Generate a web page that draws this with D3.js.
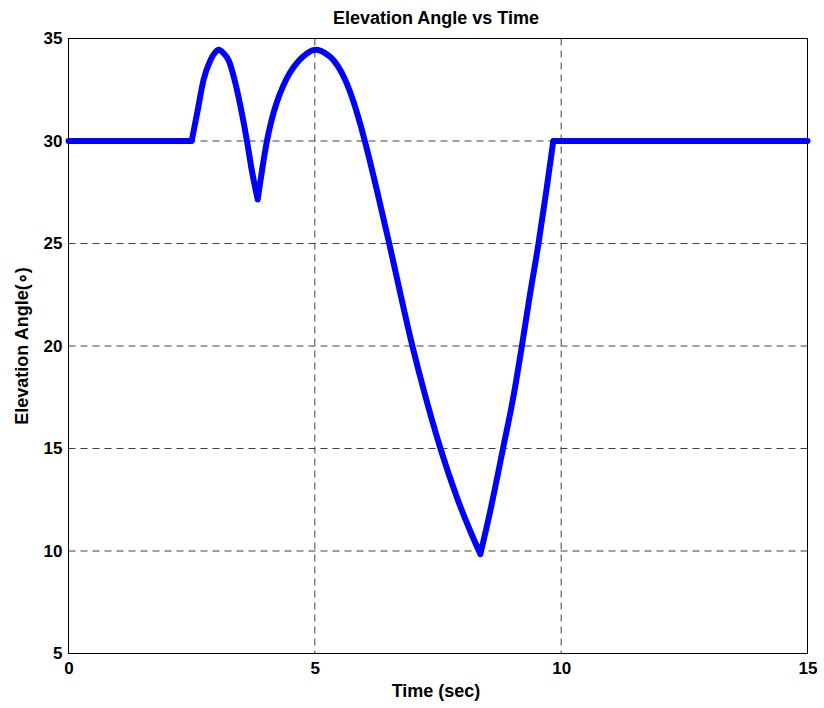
<!DOCTYPE html>
<html>
<head>
<meta charset="utf-8">
<script src="https://cdn.jsdelivr.net/npm/d3@7/dist/d3.min.js"></script>
<style>
  html, body { margin: 0; padding: 0; background: #fff; }
  svg { display: block; }
  text { font-family: Arial, "Liberation Sans", Helvetica, sans-serif; font-weight: bold; fill: #000; }
</style>
</head>
<body>
<svg id="chart" width="824" height="708"></svg>
<script>
// Elevation angle (degrees) sampled over time (seconds)
const timeSec = [0, 2.5, 2.61, 2.74, 2.88, 2.97, 3.05, 3.14, 3.25, 3.39, 3.52, 3.62, 3.72, 3.84,
  3.93, 4.02, 4.12, 4.23, 4.36, 4.5, 4.67, 4.84, 4.95, 5.04, 5.2, 5.38, 5.65, 5.92, 6.02, 6.26, 6.5,
  6.98, 7.21, 7.55, 7.88, 8.15, 8.36, 8.56, 8.82, 9.03, 9.2, 9.37, 9.54, 9.71, 9.84, 15];
const elevationDeg = [30, 30, 31.34, 32.97, 33.94, 34.3, 34.45, 34.3, 33.94, 32.8, 31.34, 30.04, 28.58, 27.15,
  28.6, 29.9, 31.0, 31.9, 32.7, 33.35, 33.9, 34.27, 34.42, 34.45, 34.3, 33.94, 32.8, 30.85, 29.95, 27.6, 25.1,
  20.0, 17.85, 15.0, 12.64, 11.0, 9.85, 11.95, 15.0, 17.52, 19.96, 22.56, 25.0, 27.76, 30.0, 30];

// times where the trajectory switches manoeuvre (sharp corners)
const breakTimes = [0, 2.5, 3.84, 8.36, 9.84, 15];

const xTicks = [0, 5, 10, 15];
const yTicks = [5, 10, 15, 20, 25, 30, 35];

const titleText = "Elevation Angle vs Time";
const xLabelText = "Time (sec)";
const yLabelText = "Elevation Angle(\u2218)";

const svg = d3.select("#chart");
const plotLeft = 68.5, plotRight = 807.5, plotTop = 38.5, plotBottom = 653.5;

const x = d3.scaleLinear().domain([0, 15]).range([plotLeft, plotRight]);
const y = d3.scaleLinear().domain([5, 35]).range([plotBottom, plotTop]);

// dashed grid lines
const grid = svg.append("g").attr("class", "grid");
grid.selectAll("line.gx")
  .data(xTicks.filter(d => d > 0 && d < 15))
  .join("line")
  .attr("class", "gx")
  .attr("x1", d => x(d)).attr("x2", d => x(d))
  .attr("y1", plotTop).attr("y2", plotBottom);
grid.selectAll("line.gy")
  .data(yTicks.filter(d => d > 5 && d < 35))
  .join("line")
  .attr("class", "gy")
  .attr("x1", plotLeft).attr("x2", plotRight)
  .attr("y1", d => y(d)).attr("y2", d => y(d));
grid.selectAll("line")
  .attr("stroke", "#404040")
  .attr("stroke-width", 1)
  .attr("stroke-dasharray", "7,5");

// axes (labels only; frame drawn separately)
const xAxis = svg.append("g")
  .attr("transform", `translate(0,${plotBottom})`)
  .call(d3.axisBottom(x).tickValues(xTicks).tickSize(0).tickPadding(8).tickFormat(d3.format("d")));
const yAxis = svg.append("g")
  .attr("transform", `translate(${plotLeft},0)`)
  .call(d3.axisLeft(y).tickValues(yTicks).tickSize(0).tickPadding(6).tickFormat(d3.format("d")));
[xAxis, yAxis].forEach(a => {
  a.select(".domain").remove();
  a.selectAll("text")
    .style("font-family", "Arial, 'Liberation Sans', sans-serif")
    .style("font-weight", "bold")
    .style("font-size", "17px")
    .attr("fill", "#000");
});

// plot frame
svg.append("rect")
  .attr("x", plotLeft).attr("y", plotTop)
  .attr("width", plotRight - plotLeft).attr("height", plotBottom - plotTop)
  .attr("fill", "none").attr("stroke", "#000").attr("stroke-width", 1);

// elevation curve: smooth within each manoeuvre, sharp at the switch points
const pts = timeSec.map((t, i) => [t, elevationDeg[i]]);
const line = d3.line().x(d => x(d[0])).y(d => y(d[1])).curve(d3.curveMonotoneX);
let pathD = "";
for (let k = 0; k < breakTimes.length - 1; k++) {
  const seg = pts.filter(p => p[0] >= breakTimes[k] && p[0] <= breakTimes[k + 1]);
  pathD += line(seg);
}
svg.append("path")
  .attr("d", pathD)
  .attr("fill", "none")
  .attr("stroke", "#0000ff")
  .attr("stroke-width", 6)
  .attr("stroke-linejoin", "round")
  .attr("stroke-linecap", "round");

// title and axis labels
svg.append("text")
  .attr("x", (plotLeft + plotRight) / 2 - 2).attr("y", 24)
  .attr("text-anchor", "middle")
  .style("font-size", "18px")
  .text(titleText);
svg.append("text")
  .attr("x", (plotLeft + plotRight) / 2 - 2).attr("y", 697)
  .attr("text-anchor", "middle")
  .style("font-size", "18px")
  .text(xLabelText);
svg.append("text")
  .attr("transform", `translate(28,${(plotTop + plotBottom) / 2}) rotate(-90)`)
  .attr("text-anchor", "middle")
  .style("font-size", "18px")
  .text(yLabelText);
</script>
</body>
</html>
